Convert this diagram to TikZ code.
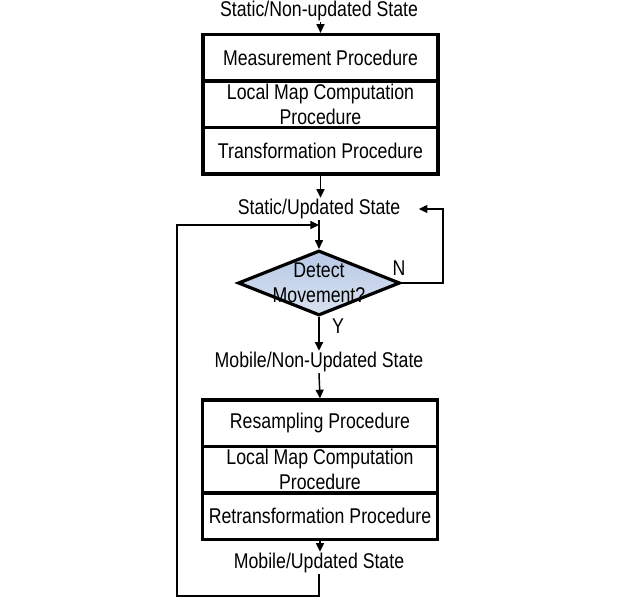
\documentclass[tikz,border=0pt]{standalone}
\usepackage{fontspec}
\setmainfont{Liberation Sans}[FakeStretch=0.83]
\usepackage{xcolor}
\usepackage{tikz}
\usetikzlibrary{shapes.geometric,arrows.meta}

\definecolor{dmtop}{RGB}{184,201,230}
\definecolor{dmbot}{RGB}{216,225,239}

\tikzset{
  proc/.style={draw, line width=2.4pt, minimum width=176.25pt, minimum height=34.9pt, inner sep=0.75pt, align=center},
  lbl/.style={inner sep=0.75pt, align=center},
  arr/.style={line width=1.1pt, -{Triangle[width=6pt,length=6.5pt]}},
  decision/.style={diamond, draw, line width=2.4pt, minimum width=121.5pt, minimum height=48.75pt, inner sep=0pt, top color=dmtop, bottom color=dmbot},
}

\begin{document}
\begin{tikzpicture}[x=0.75pt,y=0.75pt,yscale=-1,xscale=1,font=\fontsize{16}{18.75}\selectfont]
\useasboundingbox (0,0) rectangle (637,598);

% Text Node
\node [lbl] (snu) at (319,11) {Static/Non-updated State};

%Shape: Rectangles
\node [proc] (meas) at (320.5,57.75) {Measurement Procedure};
\node [proc] (lmap) at (320.5,104.25) {Local Map Computation\\Procedure};
\node [proc] (trans) at (320.5,150.75) {Transformation Procedure};

% Text Node
\node [lbl] (su) at (319,209) {Static/Updated State};

%Shape: Diamond
\node [decision] (det) at (319,283) {};
\node [lbl] (dettxt) at (det.center) {Detect\\Movement?};
\node [lbl] (no) at (399,268) {N};
\node [lbl] (yes) at (338,326) {Y};

% Text Node
\node [lbl] (mnu) at (319,362) {Mobile/Non-Updated State};

%Shape: Rectangles
\node [proc] (resa) at (320,423.25) {Resampling Procedure};
\node [proc] (lmapb) at (320,469.75) {Local Map Computation\\Procedure};
\node [proc] (retr) at (320,516.25) {Retransformation Procedure};

% Text Node
\node [lbl] (mu) at (319,563) {Mobile/Updated State};

\coordinate (nr) at (443,209);
\coordinate (jn) at (319,225);
\coordinate (bl) at (177,596);

%Straight Lines
\draw [arr] (snu.south -| meas.north) -- (meas.north);
\draw [arr] (trans.south) -- (su.north -| trans.south);
\draw [arr] (su.south) -- (det.north);
\draw [arr] (det.south) -- (mnu.north);
\draw [arr] (mnu.south) -- (resa.north);
\draw [arr] (retr.south) -- (mu.north -| retr.south);

%Loops
\draw [arr, shorten >=13pt] (det.east) -| (nr) -- (su.east);
\draw [arr] (mu.south) |- (bl) |- (jn);
\end{tikzpicture}
\end{document}
